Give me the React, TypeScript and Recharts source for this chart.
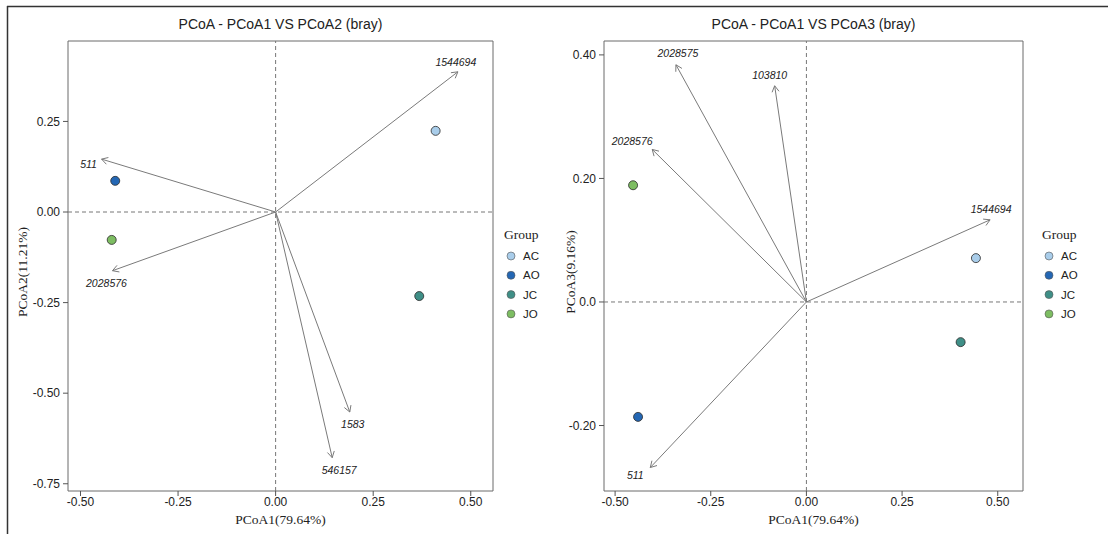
import React from 'react';
import { ScatterChart, Scatter, XAxis, YAxis, ReferenceLine, ReferenceArea } from 'recharts';

const SANS = '"Liberation Sans", Arial, sans-serif';
const SERIF = '"Liberation Serif", "Times New Roman", serif';

// sample groups
const groups = ['AC', 'AO', 'JC', 'JO'];
const groupColors = ['#a9cdea', '#2467b4', '#3f8f87', '#7dbd62'];

// PCoA1 vs PCoA2 sample scores
const pc1Left = [0.41, -0.411, 0.368, -0.42];
const pc2Left = [0.224, 0.086, -0.232, -0.077];

// PCoA1 vs PCoA3 sample scores
const pc1Right = [0.443, -0.44, 0.403, -0.453];
const pc3Right = [0.071, -0.186, -0.065, 0.189];

// species arrows (tips)
const arrowNamesLeft = ['1544694', '511', '2028576', '1583', '546157'];
const arrowLeftX = [0.467, -0.446, -0.418, 0.19, 0.145];
const arrowLeftY = [0.387, 0.146, -0.162, -0.552, -0.678];

const arrowNamesRight = ['2028575', '103810', '2028576', '1544694', '511'];
const arrowRightX = [-0.341, -0.083, -0.403, 0.48, -0.408];
const arrowRightY = [0.384, 0.35, 0.247, 0.133, -0.268];

// ticks
const xTicks = [-0.5, -0.25, 0, 0.25, 0.5];
const xTickLabels = ['-0.50', '-0.25', '0.00', '0.25', '0.50'];
const leftYTicks = [-0.75, -0.5, -0.25, 0, 0.25];
const leftYTickLabels = ['-0.75', '-0.50', '-0.25', '0.00', '0.25'];
const rightYTicks = [-0.2, 0, 0.2, 0.4];
const rightYTickLabels = ['-0.20', '0.0', '0.20', '0.40'];

// label nudges in px, relative to arrow tip
const nudgeLeft: Record<string, [number, number]> = {
  '1544694': [-2, -10],
  '511': [-13, 5],
  '2028576': [-6, 12],
  '1583': [3, 12],
  '546157': [7, 12],
};
const nudgeRight: Record<string, [number, number]> = {
  '2028575': [2, -12],
  '103810': [-5, -11],
  '2028576': [-20, -8],
  '1544694': [1, -11],
  '511': [-15, 7],
};

const fmt = (ticks: number[], labels: string[]) => (v: number) => {
  const i = ticks.findIndex((t) => Math.abs(t - v) < 1e-9);
  return i >= 0 ? labels[i] : String(v);
};

const arrowShape = (name: string, nudge: [number, number]) => (p: any) => {
  const { x1, y1, x2, y2 } = p;
  const ang = Math.atan2(y2 - y1, x2 - x1);
  const len = 7;
  const spread = Math.PI / 6;
  const a = [x2 - len * Math.cos(ang - spread), y2 - len * Math.sin(ang - spread)];
  const b = [x2 - len * Math.cos(ang + spread), y2 - len * Math.sin(ang + spread)];
  return (
    <g>
      <line x1={x1} y1={y1} x2={x2} y2={y2} stroke="#7a7a7a" strokeWidth={1} />
      <polyline
        points={`${a[0]},${a[1]} ${x2},${y2} ${b[0]},${b[1]}`}
        fill="none"
        stroke="#7a7a7a"
        strokeWidth={1}
      />
      <text
        x={x2 + nudge[0]}
        y={y2 + nudge[1]}
        textAnchor="middle"
        dominantBaseline="central"
        fontSize={10.5}
        fontStyle="italic"
        fontFamily={SANS}
        fill="#222"
      >
        {name}
      </text>
    </g>
  );
};

const dot = (p: any) => (
  <circle cx={p.cx} cy={p.cy} r={4.5} fill={p.payload.color} stroke="#2a2a2a" strokeWidth={0.8} />
);

type PanelProps = {
  title: string;
  xTitle: string;
  yTitle: string;
  yTitleX: number;
  yWidth: number;
  marginRight: number;
  xDomain: [number, number];
  yDomain: [number, number];
  yTicks: number[];
  yTickLabels: string[];
  xs: number[];
  ys: number[];
  arrowNames: string[];
  arrowX: number[];
  arrowY: number[];
  nudges: Record<string, [number, number]>;
  legendX: number;
};

function GroupLegend({ x }: { x: number }) {
  return (
    <svg width={90} height={120} style={{ position: 'absolute', left: x, top: 220 }}>
      <text x={0} y={19} fontSize={13.5} fontFamily={SERIF} fill="#222">
        Group
      </text>
      {groups.map((g, i) => (
        <g key={g}>
          <circle cx={7} cy={36 + i * 19.3} r={4} fill={groupColors[i]} stroke="#555" strokeWidth={0.6} />
          <text x={19} y={40 + i * 19.3} fontSize={11.5} fontFamily={SANS} fill="#222">
            {g}
          </text>
        </g>
      ))}
    </svg>
  );
}

function Panel(props: PanelProps) {
  const data = props.xs.map((x, i) => ({ x, y: props.ys[i], group: groups[i], color: groupColors[i] }));
  const tickStyle = { fill: '#222', fontSize: 12, fontFamily: SANS };
  return (
    <div style={{ position: 'relative', width: 554, height: 534 }}>
      <ScatterChart width={554} height={534} margin={{ top: 41, right: props.marginRight, bottom: 0, left: 0 }}>
        <XAxis
          type="number"
          dataKey="x"
          domain={props.xDomain}
          ticks={xTicks}
          tickFormatter={fmt(xTicks, xTickLabels)}
          allowDataOverflow
          height={43}
          axisLine={false}
          tickLine={{ stroke: '#555' }}
          tickSize={5}
          tickMargin={1}
          tick={tickStyle}
          label={(lp: any) => (
            <text
              x={lp.viewBox.x + lp.viewBox.width / 2}
              y={lp.viewBox.y + 33}
              textAnchor="middle"
              fontSize={13.5}
              fontFamily={SERIF}
              fill="#222"
            >
              {props.xTitle}
            </text>
          )}
        />
        <YAxis
          type="number"
          dataKey="y"
          domain={props.yDomain}
          ticks={props.yTicks}
          tickFormatter={fmt(props.yTicks, props.yTickLabels)}
          allowDataOverflow
          width={props.yWidth}
          axisLine={false}
          tickLine={{ stroke: '#555' }}
          tickSize={5}
          tickMargin={3}
          tick={tickStyle}
          label={(lp: any) => {
            const cx = lp.viewBox.x + props.yTitleX;
            const cy = lp.viewBox.y + lp.viewBox.height / 2 + 6;
            return (
              <text
                x={cx}
                y={cy}
                transform={`rotate(-90 ${cx} ${cy})`}
                textAnchor="middle"
                dominantBaseline="central"
                fontSize={13.5}
                fontFamily={SERIF}
                fill="#222"
              >
                {props.yTitle}
              </text>
            );
          }}
        />
        <ReferenceArea
          x1={props.xDomain[0]}
          x2={props.xDomain[1]}
          y1={props.yDomain[0]}
          y2={props.yDomain[1]}
          fill="none"
          stroke="#6b6b6b"
          strokeWidth={1}
          label={(lp: any) => (
            <text
              x={lp.viewBox.x + lp.viewBox.width / 2}
              y={lp.viewBox.y - 12}
              textAnchor="middle"
              fontSize={14}
              fontFamily={SANS}
              fill="#222"
            >
              {props.title}
            </text>
          )}
        />
        <ReferenceLine x={0} stroke="#777" strokeDasharray="4 3" />
        <ReferenceLine y={0} stroke="#777" strokeDasharray="4 3" />
        {props.arrowNames.map((n, i) => (
          <ReferenceLine
            key={n}
            segment={[
              { x: 0, y: 0 },
              { x: props.arrowX[i], y: props.arrowY[i] },
            ]}
            shape={arrowShape(n, props.nudges[n])}
          />
        ))}
        <Scatter data={data} shape={dot} isAnimationActive={false} />
      </ScatterChart>
      <GroupLegend x={props.legendX} />
    </div>
  );
}

export default function App() {
  return (
    <div style={{ position: 'relative', width: 1108, height: 534, background: '#fff' }}>
      <style>{'html,body{margin:0;padding:0;background:#fff}'}</style>
      <div style={{ position: 'absolute', left: 0, top: 0 }}>
        <Panel
          title="PCoA - PCoA1 VS PCoA2 (bray)"
          xTitle="PCoA1(79.64%)"
          yTitle="PCoA2(11.21%)"
          yTitleX={22}
          yWidth={68}
          marginRight={61}
          xDomain={[-0.532, 0.557]}
          yDomain={[-0.77, 0.472]}
          yTicks={leftYTicks}
          yTickLabels={leftYTickLabels}
          xs={pc1Left}
          ys={pc2Left}
          arrowNames={arrowNamesLeft}
          arrowX={arrowLeftX}
          arrowY={arrowLeftY}
          nudges={nudgeLeft}
          legendX={504}
        />
      </div>
      <div style={{ position: 'absolute', left: 554, top: 0 }}>
        <Panel
          title="PCoA - PCoA1 VS PCoA3 (bray)"
          xTitle="PCoA1(79.64%)"
          yTitle="PCoA3(9.16%)"
          yTitleX={16}
          yWidth={50}
          marginRight={85}
          xDomain={[-0.529, 0.566]}
          yDomain={[-0.306, 0.4225]}
          yTicks={rightYTicks}
          yTickLabels={rightYTickLabels}
          xs={pc1Right}
          ys={pc3Right}
          arrowNames={arrowNamesRight}
          arrowX={arrowRightX}
          arrowY={arrowRightY}
          nudges={nudgeRight}
          legendX={488}
        />
      </div>
      <svg width={1108} height={534} style={{ position: 'absolute', left: 0, top: 0, pointerEvents: 'none' }}>
        <line x1={7} y1={6.5} x2={1108} y2={6.5} stroke="#333" strokeWidth={1.5} />
        <line x1={7.5} y1={6} x2={7.5} y2={534} stroke="#333" strokeWidth={1.5} />
      </svg>
    </div>
  );
}
